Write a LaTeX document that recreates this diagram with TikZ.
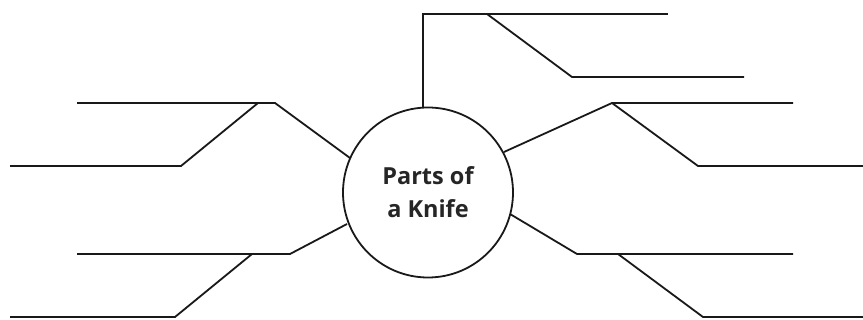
\documentclass[tikz,border=0pt]{standalone}
\usepackage{fontspec}
\setmainfont{Open Sans}
\begin{document}
\begin{tikzpicture}[x=1pt,y=-1pt,
  ln/.style={line width=1.8pt, color=black!90, line join=miter},
  hub/.style={circle, draw=black!90, line width=1.8pt, minimum size=170pt, inner sep=0pt,
    font=\fontsize{23.5}{33}\selectfont\bfseries, align=center, text=black!85}]
\useasboundingbox (0,0) rectangle (863,320);
\node[hub] (c) at (428,192.5) {Parts of\\a Knife};
% top
\coordinate (t0) at (423,14);
\coordinate (t1) at (668,14);
\coordinate (t2) at (487,14);
\coordinate (t3) at (572,77);
\coordinate (t4) at (744,77);
\draw[ln] (c.north -| t0) -- (t0) -- (t1);
\draw[ln] (t2) -- (t3) -- (t4);
% upper left
\coordinate (ul0) at (350,158);
\coordinate (ul1) at (275,103);
\coordinate (ul2) at (77,103);
\coordinate (ul3) at (258,103);
\coordinate (ul4) at (181,166);
\coordinate (ul5) at (10,166);
\draw[ln] (ul0) -- (ul1) -- (ul2);
\draw[ln] (ul3) -- (ul4) -- (ul5);
% upper right
\coordinate (ur0) at (504,152);
\coordinate (ur1) at (612,103);
\coordinate (ur2) at (793,103);
\coordinate (ur3) at (698,166);
\coordinate (ur4) at (863,166);
\draw[ln] (ur0) -- (ur1) -- (ur2);
\draw[ln] (ur1) -- (ur3) -- (ur4);
% lower left
\coordinate (ll0) at (347,224);
\coordinate (ll1) at (290,254);
\coordinate (ll2) at (77,254);
\coordinate (ll3) at (252,254);
\coordinate (ll4) at (175,317);
\coordinate (ll5) at (10,317);
\draw[ln] (ll0) -- (ll1) -- (ll2);
\draw[ln] (ll3) -- (ll4) -- (ll5);
% lower right
\coordinate (lr0) at (510,214);
\coordinate (lr1) at (577,254);
\coordinate (lr2) at (793,254);
\coordinate (lr3) at (618,254);
\coordinate (lr4) at (703,317);
\coordinate (lr5) at (863,317);
\draw[ln] (lr0) -- (lr1) -- (lr2);
\draw[ln] (lr3) -- (lr4) -- (lr5);
\end{tikzpicture}
\end{document}
